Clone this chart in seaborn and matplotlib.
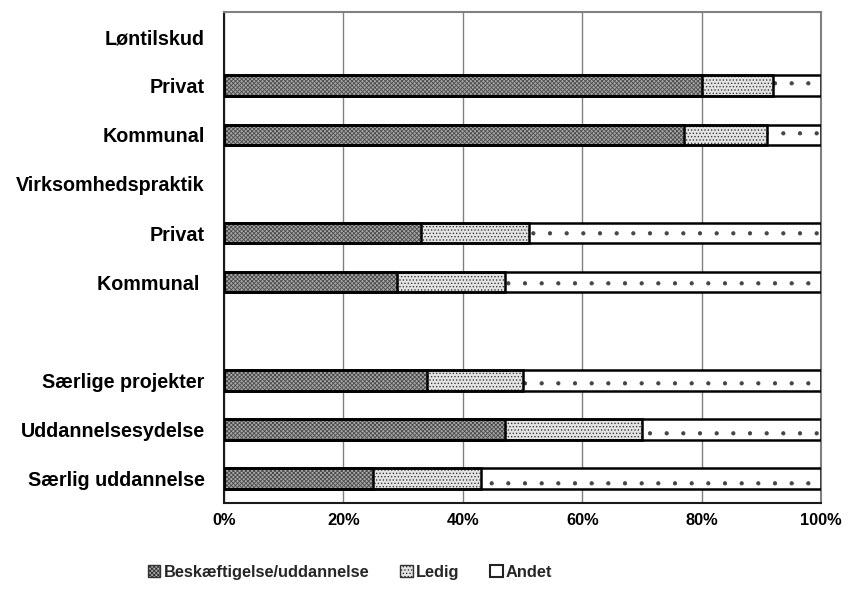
import numpy as np
import pandas as pd
import matplotlib
matplotlib.use("Agg")
import matplotlib.pyplot as plt
import matplotlib.patches as mpatches
import seaborn as sns

# ---- data ----
row_labels = ["Løntilskud", "Privat", "Kommunal", "Virksomhedspraktik", "Privat",
              "Kommunal ", "", "Særlige projekter", "Uddannelsesydelse", "Særlig uddannelse"]
bar_rows = [1, 2, 4, 5, 7, 8, 9]          # rows that carry a bar
beskaeftigelse = [80, 77, 33, 29, 34, 47, 25]
ledig = [12, 14, 18, 18, 16, 23, 18]
andet = [8, 9, 49, 53, 50, 30, 57]
series_names = ["Beskæftigelse/uddannelse", "Ledig", "Andet"]
xticks = [0, 20, 40, 60, 80, 100]
xtick_labels = ["0%", "20%", "40%", "60%", "80%", "100%"]

sns.set_theme(style="white")
plt.rcParams["font.family"] = ["Liberation Sans", "DejaVu Sans"]
plt.rcParams["font.weight"] = "bold"
plt.rcParams["hatch.linewidth"] = 0.6

row_ids = [f"r{i}" for i in range(len(row_labels))]
df = pd.DataFrame({
    "row": [row_ids[i] for i in bar_rows],
    "b": beskaeftigelse, "l": ledig, "a": andet,
})
df["c1"] = df["b"]
df["c2"] = df["b"] + df["l"]
df["c3"] = df["b"] + df["l"] + df["a"]

fig = plt.figure(figsize=(8.5, 6.05), dpi=100)
ax = fig.add_axes([0.2635, 0.1686, 0.9660 - 0.2635, 0.980 - 0.1686])

styles = [
    ("c3", "white", "#444444", "."),
    ("c2", "#e4e4e4", "#3a3a3a", "....."),
    ("c1", "#a8a8a8", "#4a4a4a", "xxxxxxxx"),
]
bw = 0.42
for col, fc, hc, hatch in styles:
    n0 = len(ax.patches)
    sns.barplot(data=df, x=col, y="row", order=row_ids, orient="h", ax=ax,
                color=fc, width=bw, errorbar=None, linewidth=0, zorder=3)
    for p in ax.patches[n0:]:
        p.set_facecolor(fc)
        p.set_edgecolor(hc)
        p.set_hatch(hatch)
        p.set_linewidth(0)
    n0 = len(ax.patches)
    sns.barplot(data=df, x=col, y="row", order=row_ids, orient="h", ax=ax,
                fill=False, color="black", width=bw, errorbar=None,
                linewidth=1.8, zorder=4)
    for p in ax.patches[n0:]:
        p.set_edgecolor("black")
        p.set_facecolor("none")
        p.set_linewidth(1.8)

ax.set_xlim(0, 100)
ax.set_ylim(len(row_labels) - 0.5, -0.5)
ax.set_xticks(xticks)
ax.set_xticklabels(xtick_labels, fontsize=11.8, fontweight="bold")
ax.set_yticks(range(len(row_labels)))
ax.set_yticklabels(row_labels, fontsize=14.2, fontweight="bold")
ax.set_xlabel("")
ax.set_ylabel("")
ax.tick_params(axis="both", length=0, colors="black")
ax.tick_params(axis="y", pad=14)
ax.tick_params(axis="x", pad=7)
ax.xaxis.grid(True, color="#808080", linewidth=1.0, zorder=0)
ax.yaxis.grid(False)
ax.set_axisbelow(True)
for s in ["top", "right"]:
    ax.spines[s].set_color("#808080")
    ax.spines[s].set_linewidth(1.5)
for s in ["left", "bottom"]:
    ax.spines[s].set_color("#1a1a1a")
    ax.spines[s].set_linewidth(1.5)

handles = [
    mpatches.Patch(facecolor="#a8a8a8", edgecolor="#333333", hatch="xxxxxxxx", linewidth=1),
    mpatches.Patch(facecolor="#e4e4e4", edgecolor="#333333", hatch=".....", linewidth=1),
    mpatches.Patch(facecolor="white", edgecolor="#222222", hatch="", linewidth=1.5),
]
leg = fig.legend(handles, series_names, loc="center", bbox_to_anchor=(0.412, 0.054),
                 ncol=3, frameon=False, fontsize=11.8, handlelength=0.75,
                 handleheight=0.75, handletextpad=0.2, columnspacing=1.9)
for t in leg.get_texts():
    t.set_fontweight("bold")

fig.savefig("out.png", dpi=100)
